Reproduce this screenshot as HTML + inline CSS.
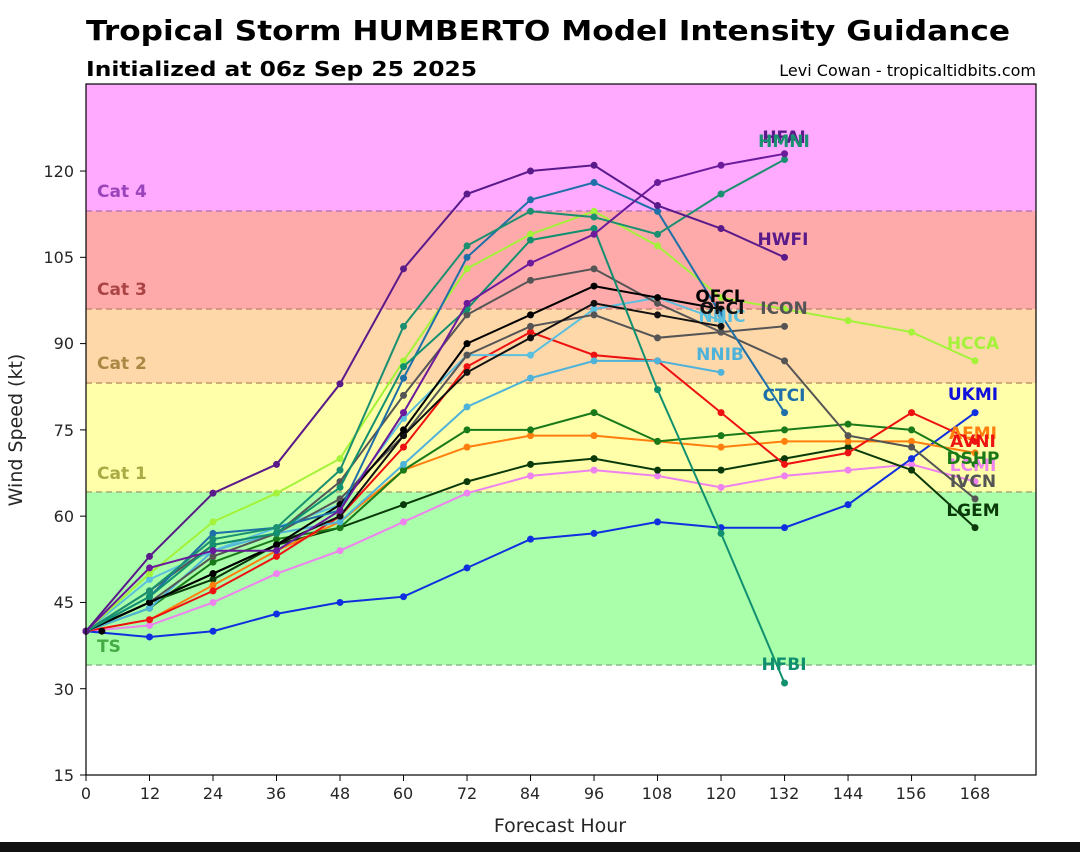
<!DOCTYPE html>
<html><head><meta charset="utf-8"><style>
html,body{margin:0;padding:0;background:#fff;}
svg{display:block;font-family:"DejaVu Sans","Liberation Sans",sans-serif;}
.lbl{font-weight:bold;font-size:17px;text-anchor:middle;}
.cat{font-weight:bold;font-size:17px;}
.tk{font-size:16px;fill:#262626;}
</style></head><body>
<svg id="s" width="1080" height="852" viewBox="0 0 1080 852" xmlns="http://www.w3.org/2000/svg">
<rect width="1080" height="852" fill="#fff"/>
<text x="86" y="40" font-size="28" font-weight="bold" textLength="924" lengthAdjust="spacingAndGlyphs">Tropical Storm HUMBERTO Model Intensity Guidance</text>
<text x="86" y="76" font-size="20" font-weight="bold" textLength="391" lengthAdjust="spacingAndGlyphs">Initialized at 06z Sep 25 2025</text>
<text x="1036" y="76" font-size="16" text-anchor="end">Levi Cowan - tropicaltidbits.com</text>
<!-- bands -->
<rect x="86" y="84" width="950" height="127" fill="#ffaaff"/>
<rect x="86" y="211" width="950" height="98" fill="#ffaaaa"/>
<rect x="86" y="309" width="950" height="74" fill="#ffd8aa"/>
<rect x="86" y="383" width="950" height="109" fill="#ffffaa"/>
<rect x="86" y="492" width="950" height="173" fill="#aaffaa"/>
<g stroke-dasharray="6,4" stroke-width="1.5">
<line x1="86" x2="1036" y1="211" y2="211" stroke="#bb77bb"/>
<line x1="86" x2="1036" y1="309" y2="309" stroke="#cc8877"/>
<line x1="86" x2="1036" y1="383" y2="383" stroke="#bb9966"/>
<line x1="86" x2="1036" y1="492" y2="492" stroke="#aaaa77"/>
<line x1="86" x2="1036" y1="665" y2="665" stroke="#88bb88"/>
</g>
<text class="cat" x="97" y="197" fill="#9944bb">Cat 4</text>
<text class="cat" x="97" y="295" fill="#aa4444">Cat 3</text>
<text class="cat" x="97" y="369" fill="#aa8844">Cat 2</text>
<text class="cat" x="97" y="479" fill="#aaaa44">Cat 1</text>
<text class="cat" x="97" y="652" fill="#44aa44">TS</text>
<g id="series"></g>
<!-- labels -->
<text class="lbl" x="784" y="143" fill="#5a1a8a">HFAI</text>
<text class="lbl" x="784" y="147" fill="#1a9070">HMNI</text>
<text class="lbl" x="783" y="245" fill="#5a1a8a">HWFI</text>
<text class="lbl" x="720" y="302" fill="#000">OFCL</text>
<text class="lbl" x="722" y="322" fill="#5bc0de">NNIC</text>
<text class="lbl" x="722" y="314" fill="#111">OFCI</text>
<text class="lbl" x="784" y="314" fill="#555">ICON</text>
<text class="lbl" x="720" y="360" fill="#4fb3d9">NNIB</text>
<text class="lbl" x="784" y="401" fill="#1f6fa8">CTCI</text>
<text class="lbl" x="784" y="670" fill="#119070">HFBI</text>
<text class="lbl" x="973" y="349" fill="#a4f23a">HCCA</text>
<text class="lbl" x="973" y="400" fill="#1010dd">UKMI</text>
<text class="lbl" x="973" y="439" fill="#ff7f0e">AEMI</text>
<text class="lbl" x="973" y="447" fill="#ee1111">AVNI</text>
<text class="lbl" x="973" y="471" fill="#ee82ee">LCMI</text>
<text class="lbl" x="973" y="464" fill="#1a7a1a">DSHP</text>
<text class="lbl" x="973" y="487" fill="#555">IVCN</text>
<text class="lbl" x="973" y="516" fill="#0a3a0a">LGEM</text>
<!-- frame -->
<rect x="86" y="84" width="950" height="691" fill="none" stroke="#000" stroke-width="1.2"/>
<g id="ticks" stroke="#000" stroke-width="1"></g>
<g id="tlab"></g>
<text x="560" y="832" font-size="19" text-anchor="middle" fill="#262626">Forecast Hour</text>
<text transform="translate(22,430) rotate(-90)" font-size="19" text-anchor="middle" fill="#262626">Wind Speed (kt)</text>
<g class="tk" text-anchor="end">
<text x="74" y="781">15</text><text x="74" y="608">45</text><text x="74" y="436">75</text><text x="74" y="263">105</text>
<text x="74" y="695">30</text><text x="74" y="522">60</text><text x="74" y="349">90</text><text x="74" y="177">120</text>
</g>
<g class="tk" text-anchor="middle">
<text x="86" y="799">0</text><text x="150" y="799">12</text><text x="213" y="799">24</text><text x="276" y="799">36</text><text x="340" y="799">48</text><text x="403" y="799">60</text><text x="467" y="799">72</text><text x="530" y="799">84</text><text x="594" y="799">96</text><text x="657" y="799">108</text><text x="721" y="799">120</text><text x="784" y="799">132</text><text x="848" y="799">144</text><text x="911" y="799">156</text><text x="975" y="799">168</text>
</g>
<rect x="0" y="842" width="1080" height="10" fill="#111"/>
<script>
(function(){
var NS="http://www.w3.org/2000/svg";
function X(h){return 86+5.292*h;} function Y(v){return 775-5.752*(v-15);}
var H=[0,12,24,36,48,60,72,84,96,108,120,132,144,156,168];
var S=[
["#ee82ee",[40,41,45,50,54,59,64,67,68,67,65,67,68,69,66]],
["#1030e0",[40,39,40,43,45,46,51,56,57,59,58,58,62,70,78]],
["#0a3a0a",[40,45,49,55,58,62,66,69,70,68,68,70,72,68,58]],
["#ff7f0e",[40,42,48,54,59,68,72,74,74,73,72,73,73,73,71]],
["#1a7a1a",[40,44,52,56,58,68,75,75,78,73,74,75,76,75,69]],
["#ee1111",[40,42,47,53,60,72,86,92,88,87,78,69,71,78,73]],
["#4fb3d9",[40,44,54,57,59,69,79,84,87,87,85]],
["#5bc0de",[40,49,54,58,62,77,88,88,96,98,94]],
["#555555",[40,45,53,57,63,74,88,93,95,91,92,93]],
["#555555",[40,47,55,57,66,81,95,101,103,97,92,87,74,72,63]],
["#111111",[40,45,50,55,60,74,85,91,97,95,93]],
["#000000",[40,45,50,55,62,75,90,95,100,98,96]],
["#a4f23a",[40,50,59,64,70,87,103,109,113,107,98,96,94,92,87]],
["#1f6fa8",[40,46,57,58,61,84,105,115,118,113,95,78]],
["#119070",[40,46,55,57,65,86,96,108,110,82,57,31]],
["#1a9070",[40,47,56,58,68,93,107,113,112,109,116,122]],
["#6a1a9a",[40,51,54,54,61,78,97,104,109,118,121,123]],
["#5a1a8a",[40,53,64,69,83,103,116,120,121,114,110,105]]
];
var g=document.getElementById("series");
S.forEach(function(s){
 var pts=s[1].map(function(v,i){return X(H[i]).toFixed(1)+","+Y(v).toFixed(1);});
 var pl=document.createElementNS(NS,"polyline");
 pl.setAttribute("points",pts.join(" "));pl.setAttribute("fill","none");
 pl.setAttribute("stroke",s[0]);pl.setAttribute("stroke-width","2");g.appendChild(pl);
 s[1].forEach(function(v,i){var c=document.createElementNS(NS,"circle");
  c.setAttribute("cx",X(H[i]));c.setAttribute("cy",Y(v));c.setAttribute("r","3.5");c.setAttribute("fill",s[0]);g.appendChild(c);});
});
var c=document.createElementNS(NS,"circle");c.setAttribute("cx",X(3));c.setAttribute("cy",Y(40));c.setAttribute("r","3.5");c.setAttribute("fill","#000");g.appendChild(c);
var t=document.getElementById("ticks");
H.forEach(function(h){var l=document.createElementNS(NS,"line");l.setAttribute("x1",X(h));l.setAttribute("x2",X(h));l.setAttribute("y1",775);l.setAttribute("y2",781);t.appendChild(l);});
for(var v=15;v<=120;v+=15){var l=document.createElementNS(NS,"line");l.setAttribute("x1",80);l.setAttribute("x2",86);l.setAttribute("y1",Y(v));l.setAttribute("y2",Y(v));t.appendChild(l);}
})();
</script>
</svg>
</body></html>
